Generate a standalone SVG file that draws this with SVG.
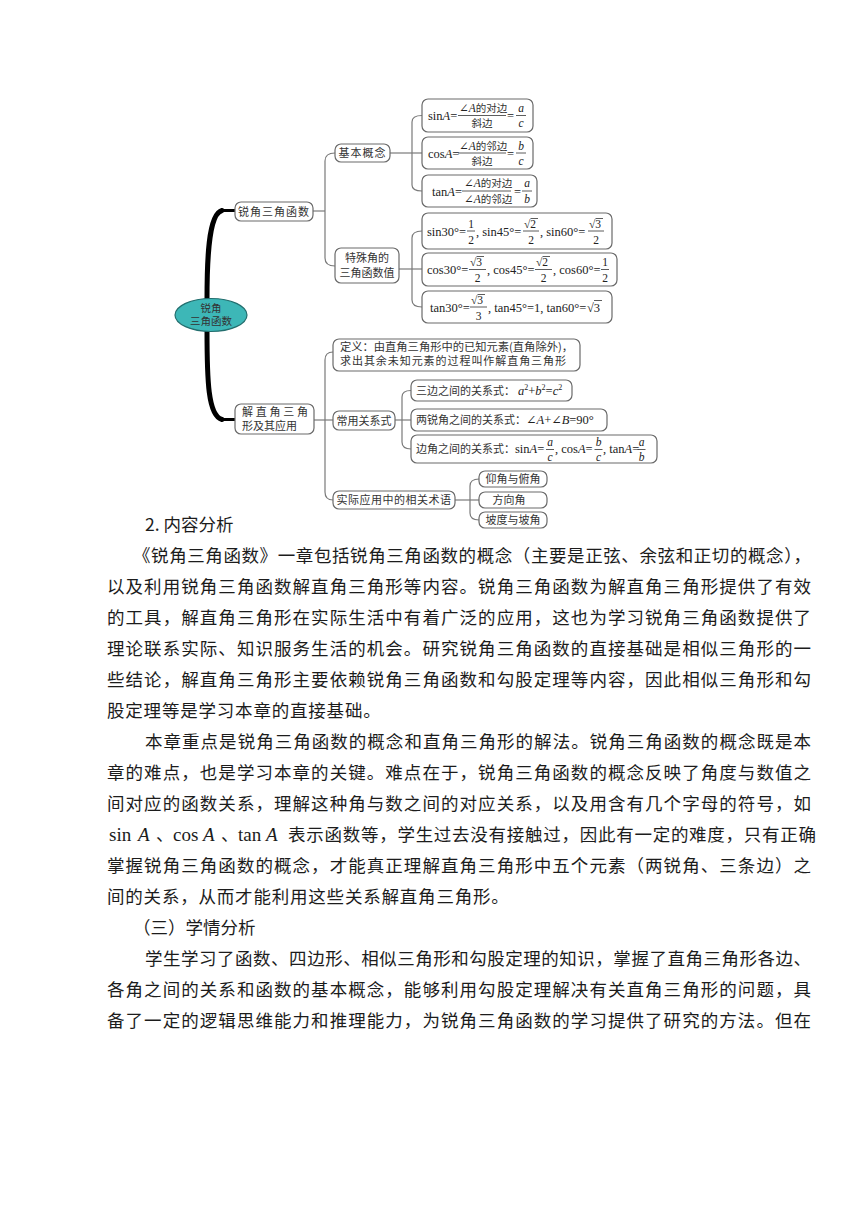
<svg xmlns="http://www.w3.org/2000/svg" width="860" height="1216" viewBox="0 0 860 1216">
<style>
.box{fill:#fff;stroke:#6a6a6a;stroke-width:1.2}
.ln{fill:none;stroke:#7a7a7a;stroke-width:1.2}
.thick{fill:none;stroke:#000;stroke-linecap:round}
.cn{font-family:"Noto Sans CJK SC",sans-serif;font-size:11px;fill:#333}
.cs{font-family:"Noto Sans CJK SC",sans-serif;font-size:10.5px;fill:#333}
.m{font-family:"Liberation Serif","DejaVu Serif",serif;font-size:12.5px;fill:#222}
.f{font-family:"Liberation Serif","DejaVu Serif",serif;font-size:11.5px;fill:#222}
.i{font-style:italic}
.c{text-anchor:middle}
.bar{stroke:#333;stroke-width:0.8}
.p{font-family:"Noto Sans CJK SC",sans-serif;font-size:17.5px;fill:#1c1c1c}
.lt{font-family:"Liberation Serif",serif;font-size:19px}
</style>
<rect width="860" height="1216" fill="#fff"/>

<g id="connectors">
  <path class="thick" stroke-width="5" d="M207 300 C207 262 208 214 222 210.5"/>
  <path class="thick" stroke-width="3" d="M222 210.5 H236"/>
  <path class="thick" stroke-width="5" d="M207 330 C207 380 208 416 222 419.5"/>
  <path class="thick" stroke-width="3" d="M222 419.5 H236"/>
  <path class="ln" d="M313 211 H325"/>
  <path class="ln" d="M335 153 Q325 153 325 161 V258 Q325 266 335 266"/>
  <path class="ln" d="M390 153 H422"/>
  <path class="ln" d="M422 115.5 Q412 115.5 412 122 V185 Q412 191 422 191"/>
  <path class="ln" d="M399 269 H422"/>
  <path class="ln" d="M422 231 Q412 231 412 238 V300 Q412 307 422 307"/>
  <path class="ln" d="M314 420 H333"/>
  <path class="ln" d="M333 352 Q325 352 325 360 V492 Q325 500 333 500"/>
  <path class="ln" d="M395 420 H411"/>
  <path class="ln" d="M411 390.5 Q402 390.5 402 397 V442 Q402 449 411 449"/>
  <path class="ln" d="M455 500 H479"/>
  <path class="ln" d="M479 479 Q470 479 470 486 V513 Q470 520 479 520"/>
</g>

<g id="n-root">
  <ellipse cx="211" cy="315" rx="36" ry="16.5" fill="#3db7b7" stroke="#236e6e" stroke-width="1.2"/>
  <text class="cs c" x="211" y="311.5" fill="#1d3a3a">锐角</text>
  <text class="cs c" x="211" y="325" fill="#1d3a3a">三角函数</text>
</g>

<g id="n-ruijiao">
  <rect class="box" x="235" y="202" width="78" height="19" rx="6"/>
  <text class="cn c" x="274" y="215.5" letter-spacing="1">锐角三角函数</text>
</g>
<g id="n-jiben">
  <rect class="box" x="335" y="144" width="55" height="18" rx="6"/>
  <text class="cn c" x="362.5" y="157" letter-spacing="1">基本概念</text>
</g>
<g id="n-teshu">
  <rect class="box" x="335" y="248" width="64" height="35" rx="6"/>
  <text class="cn c" x="367" y="262">特殊角的</text>
  <text class="cn c" x="367" y="277">三角函数值</text>
</g>

<g id="n-sin">
  <rect class="box" x="422" y="99" width="111" height="33" rx="6"/>
  <text class="m" x="428" y="120">sin<tspan class="i">A</tspan>=</text>
  <text class="f" x="459" y="112">∠<tspan class="i">A</tspan><tspan class="cs">的对边</tspan></text>
  <line class="bar" x1="458" y1="115.5" x2="506" y2="115.5"/>
  <text class="cs c" x="482" y="127">斜边</text>
  <text class="m" x="507" y="120">=</text>
  <text class="f i c" x="521" y="112">a</text>
  <line class="bar" x1="516" y1="115.5" x2="526" y2="115.5"/>
  <text class="f i c" x="521" y="127">c</text>
</g>
<g id="n-cos">
  <rect class="box" x="422" y="137" width="111" height="32" rx="6"/>
  <text class="m" x="428" y="157.5">cos<tspan class="i">A</tspan>=</text>
  <text class="f" x="459" y="149.5">∠<tspan class="i">A</tspan><tspan class="cs">的邻边</tspan></text>
  <line class="bar" x1="458" y1="153" x2="506" y2="153"/>
  <text class="cs c" x="482" y="164.5">斜边</text>
  <text class="m" x="507" y="157.5">=</text>
  <text class="f i c" x="521" y="149.5">b</text>
  <line class="bar" x1="516" y1="153" x2="526" y2="153"/>
  <text class="f i c" x="521" y="164.5">c</text>
</g>
<g id="n-tan">
  <rect class="box" x="422" y="175" width="115" height="32" rx="6"/>
  <text class="m" x="432" y="195.5">tan<tspan class="i">A</tspan>=</text>
  <text class="f" x="464" y="187">∠<tspan class="i">A</tspan><tspan class="cs">的对边</tspan></text>
  <line class="bar" x1="462" y1="191" x2="511" y2="191"/>
  <text class="f" x="464" y="202.5">∠<tspan class="i">A</tspan><tspan class="cs">的邻边</tspan></text>
  <text class="m" x="514" y="195.5">=</text>
  <text class="f i c" x="527" y="187">a</text>
  <line class="bar" x1="522" y1="191" x2="532" y2="191"/>
  <text class="f i c" x="527" y="202.5">b</text>
</g>

<g id="n-sin30">
  <rect class="box" x="422" y="213" width="190" height="36" rx="6"/>
  <text class="m" x="427" y="235.5">sin30°=</text>
  <text class="f c" x="471" y="228">1</text>
  <line class="bar" x1="467" y1="231" x2="475" y2="231"/>
  <text class="f c" x="471" y="244">2</text>
  <text class="m" x="476" y="235.5">, sin45°=</text>
  <text class="f" x="524" y="228">√2</text>
  <line class="bar" x1="530.5" y1="218.5" x2="538" y2="218.5"/>
  <line class="bar" x1="523" y1="231" x2="539" y2="231"/>
  <text class="f c" x="531" y="244">2</text>
  <text class="m" x="540" y="235.5">, sin60°=</text>
  <text class="f" x="589" y="228">√3</text>
  <line class="bar" x1="595.5" y1="218.5" x2="603" y2="218.5"/>
  <line class="bar" x1="588" y1="231" x2="604" y2="231"/>
  <text class="f c" x="596" y="244">2</text>
</g>
<g id="n-cos30">
  <rect class="box" x="422" y="253" width="195" height="33" rx="6"/>
  <text class="m" x="427" y="274">cos30°=</text>
  <text class="f" x="470" y="266">√3</text>
  <line class="bar" x1="476.5" y1="256.5" x2="484" y2="256.5"/>
  <line class="bar" x1="469" y1="269.5" x2="486" y2="269.5"/>
  <text class="f c" x="477.5" y="282">2</text>
  <text class="m" x="487" y="274">, cos45°=</text>
  <text class="f" x="536" y="266">√2</text>
  <line class="bar" x1="542.5" y1="256.5" x2="550" y2="256.5"/>
  <line class="bar" x1="535" y1="269.5" x2="552" y2="269.5"/>
  <text class="f c" x="543.5" y="282">2</text>
  <text class="m" x="553" y="274">, cos60°=</text>
  <text class="f c" x="605" y="266">1</text>
  <line class="bar" x1="601" y1="269.5" x2="609" y2="269.5"/>
  <text class="f c" x="605" y="282">2</text>
</g>
<g id="n-tan30">
  <rect class="box" x="422" y="291" width="190" height="32" rx="6"/>
  <text class="m" x="430" y="311.5">tan30°=</text>
  <text class="f" x="471" y="304">√3</text>
  <line class="bar" x1="477.5" y1="294.5" x2="485" y2="294.5"/>
  <line class="bar" x1="470" y1="307" x2="487" y2="307"/>
  <text class="f c" x="478.5" y="319.5">3</text>
  <text class="m" x="488" y="311.5">, tan45°=1, tan60°=</text>
  <text class="m" x="587" y="311.5">√3</text>
  <line class="bar" x1="594" y1="300.5" x2="602" y2="300.5"/>
</g>

<g id="n-jie">
  <rect class="box" x="235" y="404" width="79" height="30" rx="6"/>
  <text class="cn" x="242" y="416" textLength="66" lengthAdjust="spacing">解直角三角</text>
  <text class="cn" x="242" y="430">形及其应用</text>
</g>
<g id="n-def">
  <rect class="box" x="333" y="339" width="247" height="32" rx="6"/>
  <text class="cn" x="340" y="351" textLength="233" lengthAdjust="spacingAndGlyphs">定义：由直角三角形中的已知元素(直角除外)，</text>
  <text class="cn" x="340" y="365" textLength="226" lengthAdjust="spacing">求出其余未知元素的过程叫作解直角三角形</text>
</g>
<g id="n-changyong">
  <rect class="box" x="333" y="411" width="62" height="19" rx="6"/>
  <text class="cn c" x="364" y="424.5">常用关系式</text>
</g>
<g id="n-sanbian">
  <rect class="box" x="411" y="380" width="161" height="21" rx="6"/>
  <text class="cn" x="416" y="394.5">三边之间的关系式：</text>
  <text class="m i" x="518" y="394.5">a<tspan font-size="8" dy="-5" font-style="normal">2</tspan><tspan dy="5" font-style="normal">+</tspan>b<tspan font-size="8" dy="-5" font-style="normal">2</tspan><tspan dy="5" font-style="normal">=</tspan>c<tspan font-size="8" dy="-5" font-style="normal">2</tspan></text>
</g>
<g id="n-liangrui">
  <rect class="box" x="411" y="409" width="196" height="22" rx="6"/>
  <text class="cn" x="416" y="424">两锐角之间的关系式：</text>
  <text class="m" x="526" y="424">∠<tspan class="i">A</tspan>+∠<tspan class="i">B</tspan>=90°</text>
</g>
<g id="n-bianjiao">
  <rect class="box" x="411" y="435" width="246" height="28" rx="6"/>
  <text class="cn" x="416" y="453">边角之间的关系式：</text>
  <text class="m" x="515" y="453">sin<tspan class="i">A</tspan>=</text>
  <text class="f i c" x="550" y="446">a</text>
  <line class="bar" x1="546" y1="449.5" x2="554" y2="449.5"/>
  <text class="f i c" x="550" y="460.5">c</text>
  <text class="m" x="555" y="453">, cos<tspan class="i">A</tspan>=</text>
  <text class="f i c" x="598.5" y="446">b</text>
  <line class="bar" x1="594.5" y1="449.5" x2="602.5" y2="449.5"/>
  <text class="f i c" x="598.5" y="460.5">c</text>
  <text class="m" x="603" y="453">, tan<tspan class="i">A</tspan>=</text>
  <text class="f i c" x="641.5" y="446">a</text>
  <line class="bar" x1="637.5" y1="449.5" x2="645.5" y2="449.5"/>
  <text class="f i c" x="641.5" y="460.5">b</text>
</g>
<g id="n-shiji">
  <rect class="box" x="333" y="491" width="122" height="18" rx="6"/>
  <text class="cn c" x="394" y="504" letter-spacing="0.5">实际应用中的相关术语</text>
</g>
<g id="n-yangjiao">
  <rect class="box" x="479" y="471" width="68" height="16" rx="6"/>
  <text class="cn c" x="513" y="483">仰角与俯角</text>
</g>
<g id="n-fangxiang">
  <rect class="box" x="479" y="492" width="68" height="16" rx="6"/>
  <text class="cn c" x="509" y="504">方向角</text>
</g>
<g id="n-podu">
  <rect class="box" x="479" y="512" width="68" height="16" rx="6"/>
  <text class="cn c" x="513" y="524">坡度与坡角</text>
</g>

<g id="body-text">
  <text class="p" x="145" y="531">2. 内容分析</text>
  <text class="p" x="133" y="562" textLength="678" lengthAdjust="spacing">《锐角三角函数》一章包括锐角三角函数的概念（主要是正弦、余弦和正切的概念），</text>
  <text class="p" x="107" y="593" textLength="704" lengthAdjust="spacing">以及利用锐角三角函数解直角三角形等内容。锐角三角函数为解直角三角形提供了有效</text>
  <text class="p" x="107" y="624" textLength="704" lengthAdjust="spacing">的工具，解直角三角形在实际生活中有着广泛的应用，这也为学习锐角三角函数提供了</text>
  <text class="p" x="107" y="655" textLength="704" lengthAdjust="spacing">理论联系实际、知识服务生活的机会。研究锐角三角函数的直接基础是相似三角形的一</text>
  <text class="p" x="107" y="686" textLength="704" lengthAdjust="spacing">些结论，解直角三角形主要依赖锐角三角函数和勾股定理等内容，因此相似三角形和勾</text>
  <text class="p" x="107" y="717" letter-spacing="0.8">股定理等是学习本章的直接基础。</text>
  <text class="p" x="145" y="748" textLength="666" lengthAdjust="spacing">本章重点是锐角三角函数的概念和直角三角形的解法。锐角三角函数的概念既是本</text>
  <text class="p" x="107" y="779" textLength="704" lengthAdjust="spacing">章的难点，也是学习本章的关键。难点在于，锐角三角函数的概念反映了角度与数值之</text>
  <text class="p" x="107" y="810" textLength="704" lengthAdjust="spacing">间对应的函数关系，理解这种角与数之间的对应关系，以及用含有几个字母的符号，如</text>
  <text class="p" y="841"><tspan class="lt" x="109">sin</tspan><tspan class="lt" x="138" font-style="italic">A</tspan><tspan x="156">、</tspan><tspan class="lt" x="173">cos</tspan><tspan class="lt" x="203" font-style="italic">A</tspan><tspan x="221">、</tspan><tspan class="lt" x="238">tan</tspan><tspan class="lt" x="266" font-style="italic">A</tspan></text>
  <text class="p" x="288" y="841" textLength="528" lengthAdjust="spacing">表示函数等，学生过去没有接触过，因此有一定的难度，只有正确</text>
  <text class="p" x="107" y="872" textLength="704" lengthAdjust="spacing">掌握锐角三角函数的概念，才能真正理解直角三角形中五个元素（两锐角、三条边）之</text>
  <text class="p" x="107" y="903" letter-spacing="0.8">间的关系，从而才能利用这些关系解直角三角形。</text>
  <text class="p" x="133" y="934">（三）学情分析</text>
  <text class="p" x="145" y="965" textLength="666" lengthAdjust="spacing">学生学习了函数、四边形、相似三角形和勾股定理的知识，掌握了直角三角形各边、</text>
  <text class="p" x="107" y="996" textLength="704" lengthAdjust="spacing">各角之间的关系和函数的基本概念，能够利用勾股定理解决有关直角三角形的问题，具</text>
  <text class="p" x="107" y="1027" textLength="704" lengthAdjust="spacing">备了一定的逻辑思维能力和推理能力，为锐角三角函数的学习提供了研究的方法。但在</text>
</g>
</svg>
